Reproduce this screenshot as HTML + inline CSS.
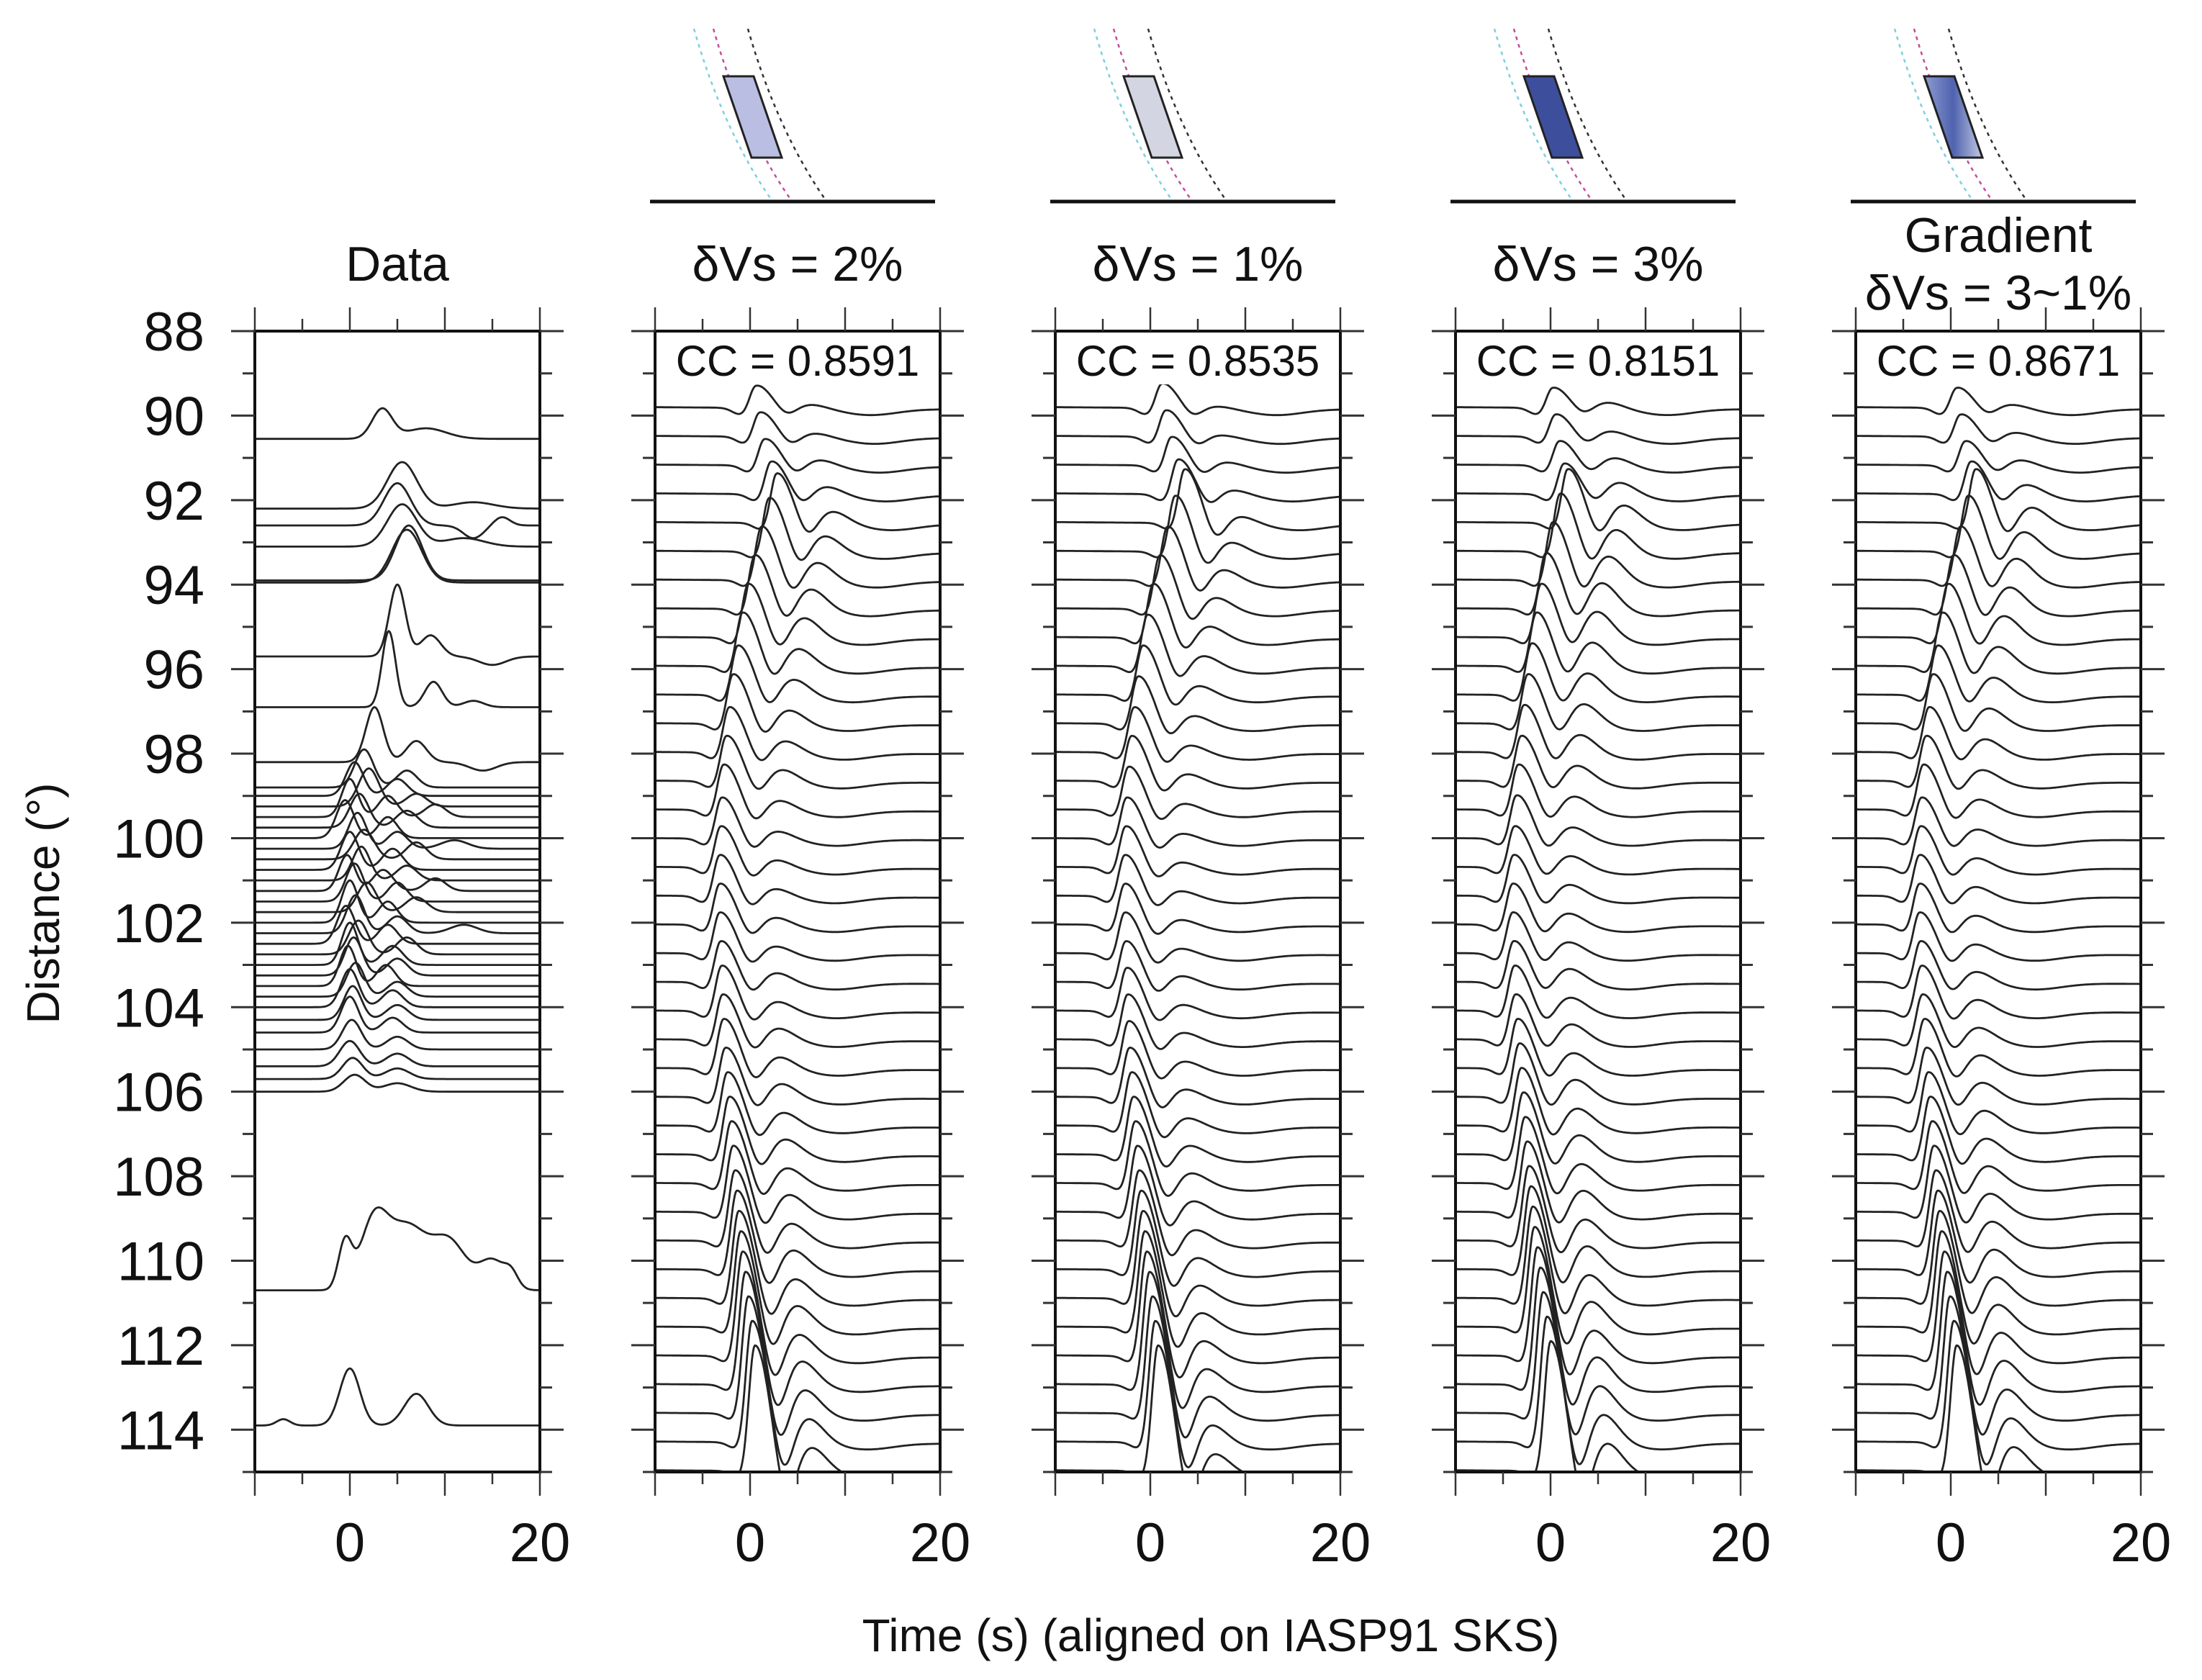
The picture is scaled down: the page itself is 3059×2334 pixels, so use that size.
<!DOCTYPE html>
<html><head><meta charset="utf-8"><style>
html,body{margin:0;padding:0;background:#fff}
svg{display:block}
text{font-family:"Liberation Sans",sans-serif;fill:#111}
</style></head><body>
<svg id="fig" width="3059" height="2334" viewBox="0 0 3059 2334" xmlns="http://www.w3.org/2000/svg">
<defs>
<linearGradient id="gradFill" x1="0" y1="0" x2="1" y2="0">
<stop offset="0" stop-color="#8d9bd2"/><stop offset="0.5" stop-color="#4f63ae"/><stop offset="1" stop-color="#c3c9e6"/>
</linearGradient>
</defs>
<g id="root"></g>
</svg>
<script>
// ---- data ----
const yTicks = [88,90,92,94,96,98,100,102,104,106,108,110,112,114];
const xTickLabels = [0,20];
const panelTitles = ["Data","δVs = 2%","δVs = 1%","δVs = 3%","Gradient|δVs = 3~1%"];
const ccLabels = ["","CC = 0.8591","CC = 0.8535","CC = 0.8151","CC = 0.8671"];
const modelFills = ["#b9bee2","#d3d6e2","#3d4f9c","url(#gradFill)"];
const synDist = [89.8,90.48,91.16,91.84,92.52,93.2,93.88,94.56,95.24,95.92,96.6,97.28,97.96,98.64,99.32,100.0,100.68,101.36,102.04,102.72,103.4,104.08,104.76,105.44,106.12,106.8,107.48,108.16,108.84,109.52,110.2,110.88,111.56,112.24,112.92,113.6,114.28,114.96];
const tp2 = [0.6,1.0,1.5,2.2,2.8,2.0,1.2,0.5,-0.2,-0.8,-1.3,-1.8,-2.2,-2.5,-2.8,-3.0,-3.1,-3.2,-3.2,-3.2,-3.1,-3.0,-2.9,-2.8,-2.6,-2.4,-2.2,-2.0,-1.8,-1.6,-1.4,-1.2,-1.0,-0.8,-0.5,-0.2,0.2,0.5];
const tp1 = [1.2,1.6,2.2,2.9,3.6,2.6,1.8,1.0,0.3,-0.3,-0.8,-1.3,-1.7,-2.0,-2.3,-2.5,-2.6,-2.7,-2.7,-2.7,-2.6,-2.5,-2.4,-2.3,-2.2,-2.0,-1.8,-1.6,-1.4,-1.2,-1.0,-0.8,-0.6,-0.4,-0.1,0.2,0.5,0.8];
const tp3 = [0.2,0.5,0.9,1.4,1.8,1.0,0.2,-0.5,-1.0,-1.5,-2.0,-2.4,-2.8,-3.1,-3.4,-3.6,-3.8,-3.9,-4.0,-4.0,-3.9,-3.8,-3.7,-3.5,-3.3,-3.1,-2.9,-2.7,-2.5,-2.3,-2.1,-1.9,-1.7,-1.4,-1.1,-0.8,-0.4,0.0];
const tpG = [0.6,1.0,1.5,2.1,2.6,1.8,1.0,0.3,-0.3,-0.9,-1.4,-1.9,-2.3,-2.6,-2.9,-3.1,-3.2,-3.3,-3.3,-3.3,-3.2,-3.1,-3.0,-2.8,-2.6,-2.4,-2.2,-2.0,-1.8,-1.6,-1.4,-1.2,-1.0,-0.7,-0.4,-0.1,0.3,0.6];
const amp2 = [0.55,0.6,0.65,0.8,1.2,1.3,1.3,1.3,1.3,1.3,1.2,1.2,1.1,1.1,1.1,1.0,1.0,1.0,1.0,1.0,1.0,1.1,1.1,1.2,1.2,1.3,1.4,1.5,1.6,1.7,1.9,2.1,2.3,2.5,2.7,2.8,2.9,3.0];
const amp1 = [0.6,0.65,0.7,0.85,1.3,1.35,1.3,1.3,1.3,1.25,1.2,1.15,1.1,1.1,1.05,1.0,1.0,1.0,1.0,1.0,1.0,1.05,1.1,1.15,1.2,1.3,1.4,1.5,1.6,1.7,1.9,2.1,2.3,2.5,2.7,2.8,2.9,3.0];
const amp3 = [0.5,0.55,0.6,0.75,1.3,1.4,1.4,1.35,1.3,1.3,1.25,1.2,1.15,1.1,1.1,1.05,1.0,1.0,1.0,1.0,1.0,1.1,1.1,1.2,1.3,1.4,1.5,1.6,1.7,1.8,2.0,2.2,2.4,2.6,2.8,2.9,3.0,3.1];
const ampG = [0.5,0.55,0.6,0.8,1.3,1.35,1.3,1.3,1.3,1.3,1.2,1.2,1.1,1.1,1.1,1.0,1.0,1.0,1.0,1.0,1.0,1.1,1.1,1.2,1.2,1.3,1.4,1.5,1.6,1.7,1.9,2.1,2.3,2.5,2.7,2.8,2.9,3.0];
const sec2 = [0.1,0.1,0.15,0.2,0.3,0.4,0.45,0.5,0.5,0.45,0.4,0.35,0.3,0.3,0.25,0.2,0.2,0.2,0.2,0.2,0.25,0.25,0.3,0.3,0.35,0.35,0.4,0.4,0.45,0.45,0.5,0.5,0.55,0.55,0.6,0.6,0.6,0.6];
const sec1 = [0.06,0.06,0.1,0.12,0.18,0.25,0.28,0.3,0.3,0.28,0.25,0.22,0.2,0.2,0.18,0.15,0.15,0.15,0.15,0.15,0.18,0.18,0.2,0.2,0.22,0.22,0.25,0.28,0.3,0.3,0.32,0.35,0.38,0.4,0.42,0.45,0.45,0.45];
const sec3 = [0.15,0.15,0.2,0.3,0.45,0.55,0.6,0.65,0.65,0.6,0.55,0.5,0.45,0.4,0.35,0.3,0.3,0.3,0.3,0.3,0.35,0.35,0.4,0.4,0.45,0.45,0.5,0.5,0.55,0.55,0.6,0.6,0.65,0.65,0.7,0.7,0.7,0.7];
const secG = [0.1,0.12,0.15,0.25,0.4,0.5,0.55,0.55,0.55,0.5,0.45,0.4,0.35,0.3,0.28,0.25,0.25,0.25,0.25,0.25,0.28,0.3,0.32,0.35,0.38,0.4,0.42,0.45,0.48,0.5,0.52,0.55,0.58,0.6,0.62,0.62,0.62,0.62];
const dataDist = [90.55,92.2,92.6,93.1,93.9,93.95,95.7,96.9,98.2,98.8,99.0,99.25,99.5,99.75,100.0,100.25,100.5,100.75,101.0,101.25,101.5,101.75,102.0,102.25,102.5,102.75,103.0,103.25,103.5,103.75,104.0,104.3,104.6,105.0,105.4,105.7,106.0,110.7,113.9];
const dataArrivals = [
 [[3.4,0.7,1.5],[8,0.25,3]],
 [[5.5,1.1,2.2],[13,0.15,3]],
 [[5.0,1.0,2.0],[13,-0.3,1.5],[16,0.2,1.2]],
 [[5.5,1.0,2.2],[12,0.2,3]],
 [[6.2,1.3,2.0]],
 [[6.0,1.25,2.2]],
 [[5.0,1.7,1.2],[8.5,0.5,1.5],[15,-0.2,2]],
 [[4.1,1.8,1.0],[8.8,0.6,1.3],[13,0.15,1.5]],
 [[2.6,1.3,1.3],[7,0.5,1.5],[14,-0.2,2]],
 [[1.5,0.9,1.4],[6,0.4,1.5]],[[0.5,0.8,1.3],[5,0.4,1.5]],[[2.0,0.9,1.5],[7,0.3,1.5]],
 [[0.0,0.9,1.2],[4,0.5,1.4],[9,0.3,1.5]],[[1.0,0.8,1.4],[6,0.4,1.6]],[[-0.5,0.9,1.3],[4,0.5,1.4]],
 [[0.8,0.85,1.3],[5,0.4,1.5],[11,0.2,2]],[[1.5,0.7,1.5],[7,0.4,1.5]],[[0.0,0.9,1.3],[4.5,0.5,1.5]],
 [[1.2,0.8,1.3],[6,0.35,1.5]],[[-0.3,0.85,1.2],[3.5,0.5,1.5],[9,0.3,1.5]],[[0.5,0.9,1.3],[5,0.45,1.4]],
 [[1.8,0.7,1.4],[7,0.35,1.6]],[[0.0,1.0,1.2],[4,0.5,1.4]],[[0.6,0.9,1.3],[5,0.4,1.5],[12,0.2,2]],
 [[-0.4,0.9,1.3],[4,0.45,1.4]],[[0.9,0.8,1.4],[6,0.4,1.5]],[[0.0,1.0,1.2],[4.5,0.45,1.5]],
 [[0.4,0.9,1.3],[5,0.4,1.5]],[[-0.2,0.95,1.2],[3.8,0.5,1.4]],[[0.6,0.8,1.3],[5,0.35,1.5]],
 [[0.0,0.9,1.3],[4.5,0.4,1.5]],[[0.3,0.8,1.3],[5,0.35,1.6]],[[0.0,0.85,1.3],[4.5,0.35,1.5]],
 [[0.2,0.7,1.4],[5,0.3,1.6]],[[0.0,0.6,1.5],[5,0.3,1.7]],[[0.3,0.5,1.5],[5,0.25,1.8]],
 [[0.5,0.4,1.6],[5,0.2,2]],
 [[-0.5,1.1,1.0],[2.5,1.5,2.0],[6,1.5,3.0],[10.5,1.1,2.5],[15,0.7,2.0],[17,0.3,1.0]],
 [[0.0,1.35,1.5],[7.0,0.75,1.8],[-7,0.15,1.0]]
];
const panelLeft = [354,910,1466,2022,2578];
const PW = 396, TOP = 460, BOT = 2045;
const D0 = 88, D1 = 115, T0 = -10, T1 = 20;
const yOf = d => TOP + (d - D0) / (D1 - D0) * (BOT - TOP);
const xOf = (p, t) => panelLeft[p] + (t - T0) / (T1 - T0) * PW;
const pxPerDeg = (BOT - TOP) / (D1 - D0);
const NS = "http://www.w3.org/2000/svg";
const root = document.getElementById('root');
function mk(tag, attrs, parent) {
  const e = document.createElementNS(NS, tag);
  for (const k in attrs) e.setAttribute(k, attrs[k]);
  (parent || root).appendChild(e);
  return e;
}
const gauss = (t, c, w) => Math.exp(-(((t - c) / w) ** 2));
function synAmp(t, tp, A, A2) {
  const w = t < tp ? 0.9 : 2.2;
  let v = A * Math.exp(-(((t - tp) / w) ** 2));
  v -= 0.16 * gauss(t, tp - 1.6, 1.2);
  v -= 0.35 * A * gauss(t, tp + 3.3, 1.4);
  v += A2 * gauss(t, tp + 5.8, 2.4);
  v -= 0.15 * gauss(t, tp + 12, 4);
  v += 0.05 * (-(t + 10) / 30);
  return v;
}
function dataAmp(t, arr) {
  let v = 0;
  for (const a of arr) v += a[1] * gauss(t, a[0], a[2]);
  return v;
}
const synSets = [null,[tp2,amp2,sec2],[tp1,amp1,sec1],[tp3,amp3,sec3],[tpG,ampG,secG]];

for (let p = 0; p < 5; p++) {
  const L = panelLeft[p], R = L + PW;
  const g = mk('g', {});
  
  
  const cp = mk('clipPath', {id: 'clip' + p}, g);
  mk('rect', {x: L, y: TOP, width: PW, height: BOT - TOP}, cp);
  const tg = mk('g', {'clip-path': 'url(#clip' + p + ')'}, g);
  
  
  const nTr = p === 0 ? dataDist.length : synDist.length;
  for (let i = 0; i < nTr; i++) {
    let pts = [];
    for (let t = T0; t <= T1 + 0.001; t += 0.1) {
      const v = p === 0 ? dataAmp(t, dataArrivals[i]) : synAmp(t, synSets[p][0][i], synSets[p][1][i], synSets[p][2][i]);
      const d = p === 0 ? dataDist[i] : synDist[i];
      pts.push(xOf(p, t).toFixed(1) + ',' + (yOf(d) - v * pxPerDeg).toFixed(1));
    }
    const pl = mk('polyline', {points: pts.join(' '), fill: 'none', stroke: '#222', 'stroke-width': 2.8}, tg);
    
    
  }
  const fr = mk('rect', {x: L, y: TOP, width: PW, height: BOT - TOP, fill: 'none', stroke: '#111', 'stroke-width': 4}, g);
  
  
  for (let d = 88; d <= 115; d++) {
    const len = d % 2 === 0 ? 33 : 17;
    const y = yOf(d);
    mk('line', {x1: L - len, x2: L, y1: y, y2: y, stroke: '#333', 'stroke-width': 3}, g);
    mk('line', {x1: R, x2: R + len, y1: y, y2: y, stroke: '#333', 'stroke-width': 3}, g);
  }
  for (let t = -10; t <= 20; t += 5) {
    const len = t % 10 === 0 ? 33 : 17;
    const x = xOf(p, t);
    mk('line', {x1: x, x2: x, y1: TOP - len, y2: TOP, stroke: '#333', 'stroke-width': 2.5}, g);
    mk('line', {x1: x, x2: x, y1: BOT, y2: BOT + len, stroke: '#333', 'stroke-width': 2.5}, g);
  }
  for (const t of xTickLabels) {
    const tx = mk('text', {x: xOf(p, t), y: 2169, 'font-size': 76, 'text-anchor': 'middle'}, g);
    tx.textContent = String(t);
    
    
  }
  const parts = panelTitles[p].split('|');
  if (parts.length === 1) {
    const tt = mk('text', {x: L + PW / 2, y: 390, 'font-size': 68, 'text-anchor': 'middle'}, g);
    tt.textContent = parts[0];
    
    
  } else {
    const ta = mk('text', {x: L + PW / 2, y: 350, 'font-size': 68, 'text-anchor': 'middle'}, g);
    ta.textContent = parts[0];
    
    
    const tb = mk('text', {x: L + PW / 2, y: 430, 'font-size': 68, 'text-anchor': 'middle'}, g);
    tb.textContent = parts[1];
    
    
  }
  if (ccLabels[p]) {
    mk('rect', {x: L + 20, y: 474, width: PW - 40, height: 60, fill: '#fff'}, g);
    const cc = mk('text', {x: L + PW / 2, y: 522, 'font-size': 60, 'text-anchor': 'middle'}, g);
    cc.textContent = ccLabels[p];
    
    
  }
  if (p > 0) {
    const c = mk('g', {}, g);
    
    
    const ox = L - 7;
    const cols = ['#7fd0dc', '#c0509a', '#333'];
    const offs = [0, 27, 75];
    for (let k = 0; k < 3; k++) {
      const x0 = ox + 61 + offs[k], x1 = ox + 169 + offs[k];
      mk('path', {d: `M${x0},40 Q${x0 + 40},180 ${x1},278`, fill: 'none', stroke: cols[k], 'stroke-width': 2.5, 'stroke-dasharray': '5,6'}, c);
    }
    mk('polygon', {points: `${ox+102},106 ${ox+144},106 ${ox+183},219 ${ox+141},219`, fill: modelFills[p - 1], stroke: '#222', 'stroke-width': 3}, c);
    mk('line', {x1: ox, x2: ox + 396, y1: 280, y2: 280, stroke: '#111', 'stroke-width': 5}, c);
  }
}
for (const d of yTicks) {
  const t = mk('text', {x: 284, y: yOf(d) + 27, 'font-size': 76, 'text-anchor': 'end'});
  t.textContent = String(d);
  
  
}
const xt = mk('text', {x: 1682, y: 2294, 'font-size': 64, 'text-anchor': 'middle'});
xt.textContent = 'Time (s) (aligned on IASP91 SKS)';


const yt = mk('text', {x: 0, y: 0, 'font-size': 64, 'text-anchor': 'middle', transform: 'translate(82,1255) rotate(-90)'});
yt.textContent = 'Distance (°)';


</script>
</body></html>
